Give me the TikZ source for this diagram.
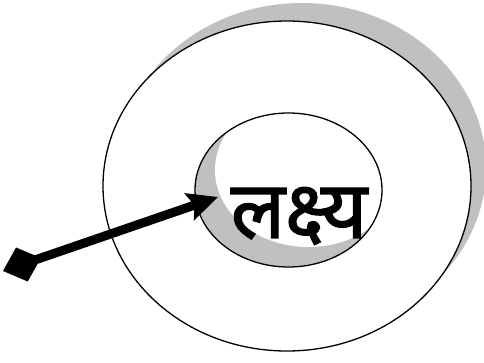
\documentclass[tikz,border=0pt]{standalone}
\usepackage{fontspec}
\newfontfamily\deva[Script=Devanagari,FakeBold=1.8]{Noto Sans}
\usetikzlibrary{arrows.meta}
\definecolor{shadowgray}{RGB}{192,192,192}
\tikzset{
  ring/.style={draw=black,line width=1.3pt},
  pointer/.style={line width=9pt,{Diamond[length=40pt,width=36pt]}-{Stealth[length=30pt,width=28pt,inset=5pt]}},
  labeltext/.style={font=\deva\fontsize{80}{84}\selectfont,inner sep=0pt}
}
\begin{document}
\begin{tikzpicture}[x=1pt,y=-1pt]
\useasboundingbox (0,0) rectangle (484,362);
% outer shadow
\fill[shadowgray] (302,168) ellipse [x radius=184pt, y radius=165pt];
\fill[white] (287,186) ellipse [x radius=184pt, y radius=165pt];
\draw[ring] (287,186) ellipse [x radius=184pt, y radius=165pt];
% inner ring with shadow crescent
\fill[shadowgray] (288.5,190) ellipse [x radius=93.5pt, y radius=77pt];
\begin{scope}
\clip (288.5,190) ellipse [x radius=93.5pt, y radius=77pt];
\fill[white] (308.5,170) ellipse [x radius=93.5pt, y radius=77pt];
\end{scope}
\draw[ring] (288.5,190) ellipse [x radius=93.5pt, y radius=77pt];
% label
\node[labeltext] (goal) at (299,216) {लक्ष्य};
% arrow
\coordinate (tail) at (3,271);
\coordinate (tip) at (218,197);
\draw[pointer] (tail) -- (tip);
\end{tikzpicture}
\end{document}
